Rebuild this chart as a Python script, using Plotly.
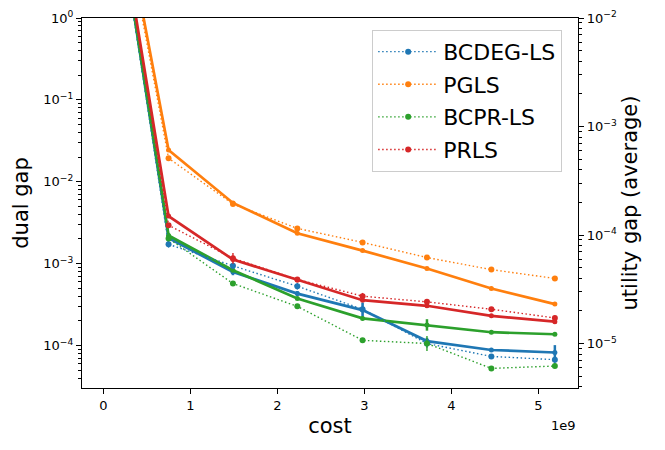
import plotly.graph_objects as go

# ---- data ----
cost = [0, 0.75e9, 1.49e9, 2.23e9, 2.98e9, 3.72e9, 4.46e9, 5.19e9]
methods = ["BCDEG-LS", "PGLS", "BCPR-LS", "PRLS"]
colors = ["#1f77b4", "#ff7f0e", "#2ca02c", "#d62728"]

# dual gap (left axis, solid)
dual_bcdeg = [300, 2.05e-3, 7.9e-4, 4.3e-4, 2.7e-4, 1.13e-4, 8.8e-5, 8.2e-5]
dual_pgls = [400, 2.44e-2, 5.5e-3, 2.35e-3, 1.44e-3, 8.7e-4, 4.95e-4, 3.2e-4]
dual_bcpr = [300, 2.2e-3, 8.3e-4, 3.74e-4, 2.14e-4, 1.78e-4, 1.45e-4, 1.37e-4]
dual_prls = [280, 3.8e-3, 1.12e-3, 6.3e-4, 3.57e-4, 3.05e-4, 2.3e-4, 1.95e-4]

# utility gap (average) (right axis, dotted)
util_bcdeg = [0.7, 8.2e-5, 5.2e-5, 3.37e-5, 2.07e-5, 1.0e-5, 7.6e-6, 7.1e-6]
util_pgls = [0.8, 5.1e-4, 1.93e-4, 1.15e-4, 8.55e-5, 6.2e-5, 4.8e-5, 3.98e-5]
util_bcpr = [0.65, 9.3e-5, 3.57e-5, 2.2e-5, 1.07e-5, 1.0e-5, 5.9e-6, 6.2e-6]
util_prls = [0.7, 1.23e-4, 6.1e-5, 3.9e-5, 2.73e-5, 2.42e-5, 2.07e-5, 1.72e-5]

# error bar half-widths, in decades
dual_err_bcdeg = [0, 0.02, 0.04, 0.03, 0.09, 0.04, 0.02, 0.09]
dual_err_pgls = [0, 0.01, 0.01, 0.01, 0.01, 0.01, 0.01, 0.01]
dual_err_bcpr = [0, 0.02, 0.02, 0.01, 0.01, 0.07, 0.01, 0.01]
dual_err_prls = [0, 0.02, 0.02, 0.01, 0.02, 0.02, 0.01, 0.02]
util_err_bcdeg = [0, 0.03, 0.03, 0.03, 0.06, 0.04, 0.02, 0.05]
util_err_pgls = [0, 0.01, 0.01, 0.01, 0.01, 0.01, 0.01, 0.01]
util_err_bcpr = [0, 0.02, 0.02, 0.02, 0.02, 0.07, 0.02, 0.02]
util_err_prls = [0, 0.02, 0.05, 0.02, 0.03, 0.02, 0.02, 0.02]

# tick labels
x_ticks = [0, 1e9, 2e9, 3e9, 4e9, 5e9]
x_labels = ["0", "1", "2", "3", "4", "5"]
y_left_ticks = [1e-4, 1e-3, 1e-2, 1e-1, 1]
y_left_labels = ["10<sup>−4</sup>", "10<sup>−3</sup>", "10<sup>−2</sup>",
                 "10<sup>−1</sup>", "10<sup>0</sup>"]
y_right_ticks = [1e-5, 1e-4, 1e-3, 1e-2]
y_right_labels = ["10<sup>−5</sup>", "10<sup>−4</sup>", "10<sup>−3</sup>",
                  "10<sup>−2</sup>"]

dual = [dual_bcdeg, dual_pgls, dual_bcpr, dual_prls]
util = [util_bcdeg, util_pgls, util_bcpr, util_prls]
dual_err = [dual_err_bcdeg, dual_err_pgls, dual_err_bcpr, dual_err_prls]
util_err = [util_err_bcdeg, util_err_pgls, util_err_bcpr, util_err_prls]


def err(vals, decs, color, thick):
    return dict(type="data", symmetric=False,
                array=[v * (10 ** d - 1) for v, d in zip(vals, decs)],
                arrayminus=[v * (1 - 10 ** -d) for v, d in zip(vals, decs)],
                color=color, thickness=thick, width=0)


fig = go.Figure()
for name, c, y, e in zip(methods, colors, dual, dual_err):
    fig.add_trace(go.Scatter(x=cost, y=y, mode="lines+markers", name=name,
                             line=dict(color=c, width=2.7),
                             marker=dict(color=c, size=5),
                             error_y=err(y, e, c, 2.5),
                             showlegend=False, yaxis="y", cliponaxis=True))
for name, c, y, e in zip(methods, colors, util, util_err):
    fig.add_trace(go.Scatter(x=cost, y=y, mode="lines+markers", name=name,
                             legendgroup=name,
                             line=dict(color=c, width=1.4, dash="1.5px,2.5px"),
                             marker=dict(color=c, size=6),
                             error_y=err(y, e, c, 1.4),
                             showlegend=True, yaxis="y2", cliponaxis=True))

tickfont = dict(family="DejaVu Sans", size=13, color="black")
titlefont = dict(family="DejaVu Sans", size=21, color="black")
minor = dict(ticks="outside", ticklen=3, tickcolor="black", dtick="D1", showgrid=False)

# page body has an 8px margin: figure is 8px smaller and margins shifted accordingly
fig.update_layout(
    width=657, height=442,
    margin=dict(l=74, r=87, t=10, b=62),
    paper_bgcolor="white", plot_bgcolor="white",
    font=dict(family="DejaVu Sans", color="black"),
    xaxis=dict(range=[-0.245e9, 5.456e9], tickvals=x_ticks, ticktext=x_labels,
               ticks="outside", automargin=False,
               ticklen=5, tickwidth=1, tickcolor="black", showgrid=False,
               zeroline=False, showline=True, linecolor="black", linewidth=1.3,
               mirror=True, tickfont=tickfont,
               title=dict(text="cost", font=titlefont, standoff=6)),
    yaxis=dict(type="log", range=[-4.52, 0], tickvals=y_left_ticks,
               ticktext=y_left_labels, automargin=False,
               ticks="outside", ticklen=5, tickcolor="black", showgrid=False,
               zeroline=False, showline=True, linecolor="black", linewidth=1.3,
               tickfont=tickfont, minor=minor,
               title=dict(text="dual gap", font=titlefont, standoff=8)),
    yaxis2=dict(type="log", range=[-5.41, -2], tickvals=y_right_ticks,
                ticktext=y_right_labels, automargin=False,
                overlaying="y", side="right",
                ticks="outside", ticklen=5, tickcolor="black", showgrid=False,
                zeroline=False, showline=True, linecolor="black", linewidth=1.3,
                tickfont=tickfont, minor=minor,
                title=dict(text="utility gap (average)", font=titlefont, standoff=6)),
    legend=dict(x=0.585, y=0.968, xanchor="left", yanchor="top",
                bgcolor="rgba(255,255,255,0.8)", bordercolor="#cccccc",
                borderwidth=1, tracegroupgap=1, itemwidth=60,
                font=dict(family="DejaVu Sans", size=22, color="black")),
    annotations=[dict(text="1e9", xref="paper", yref="paper", x=1.0, y=-0.075,
                      xanchor="right", yanchor="top", showarrow=False,
                      font=tickfont)],
)

fig.write_html("out.html")
